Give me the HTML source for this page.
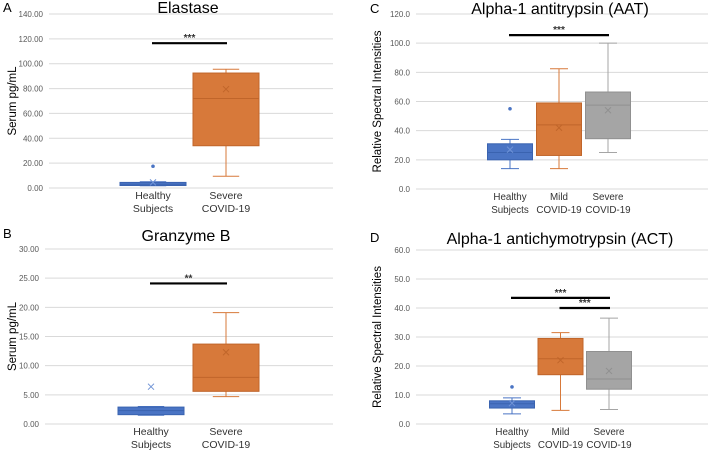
<!DOCTYPE html>
<html><head><meta charset="utf-8"><style>
body{margin:0;background:#fff;width:708px;height:450px;overflow:hidden}
svg{font-family:"Liberation Sans",sans-serif}
</style></head><body>
<svg id="s" width="708" height="450"></svg>
<script>
// Panel A: Elastase
const catsA=["Healthy|Subjects","Severe|COVID-19"];
const boxA=[[2,3,4.5,1.8,5,4.5],[34,72,92.5,9.5,95.5,79.5]]; // q1,med,q3,min,max,mean
const outA=[[17.5],[]];
const ticksA=["0.00","20.00","40.00","60.00","80.00","100.00","120.00","140.00"];
const sigA=[[0,1,116.5,"***"]];
// Panel B: Granzyme B
const catsB=["Healthy|Subjects","Severe|COVID-19"];
const boxB=[[1.6,2.3,2.9,1.5,3.0,6.4],[5.6,8,13.7,4.7,19.1,12.3]];
const outB=[[],[]];
const ticksB=["0.00","5.00","10.00","15.00","20.00","25.00","30.00"];
const sigB=[[0,1,24.1,"**"]];
// Panel C: AAT
const catsC=["Healthy|Subjects","Mild|COVID-19","Severe|COVID-19"];
const boxC=[[20,25,31,14,34,27],[23,44,59,14,82.5,42],[34.5,57.5,66.5,25,100,54]];
const outC=[[55],[],[]];
const ticksC=["0.0","20.0","40.0","60.0","80.0","100.0","120.0"];
const sigC=[[0,2,105.5,"***"]];
// Panel D: ACT
const catsD=["Healthy|Subjects","Mild|COVID-19","Severe|COVID-19"];
const boxD=[[5.5,7,8,3.5,9,7.2],[17,22.5,29.5,4.7,31.5,22],[12,15.5,25,5,36.5,18.3]];
const outD=[[12.8],[],[]];
const ticksD=["0.0","10.0","20.0","30.0","40.0","50.0","60.0"];
const sigD=[[0,2,43.5,"***"],[1,2,40,"***"]];

const colors=[["#4a74c4","#3a63b0"],["#d7793a","#c0652a"],["#a5a5a5","#909090"]];
const S=document.getElementById('s');const NS="http://www.w3.org/2000/svg";
function mk(t,a,txt){const e=document.createElementNS(NS,t);for(const k in a)e.setAttribute(k,a[k]);if(txt!=null)e.textContent=txt;S.appendChild(e);return e;}

function panel(p){
  const max=parseFloat(p.ticks[p.ticks.length-1]);
  const y=v=>p.y0+(p.yTop-p.y0)*v/max;
  const x=i=>p.cx0+i*p.step;
  p.ticks.forEach((t,i)=>{const v=parseFloat(t);
    let l=mk('line',{x1:p.xl,x2:p.xr,y1:y(v),y2:y(v),stroke:"#d9d9d9","stroke-width":1});
    
    let tx=mk('text',{x:p.xl-6,y:y(v)+3,"text-anchor":"end","font-size":8,fill:"#595959"},t);
    
  });
  let ll=mk('text',{x:p.lx,y:p.ly,"font-size":13,fill:"#000"},p.letter);
  
  let ti=mk('text',{x:p.tx,y:p.ty,"text-anchor":"middle","font-size":16,fill:"#000"},p.title);
  
  const ym=(p.y0+p.yTop)/2;
  let yt=mk('text',{x:p.ax,y:ym,"text-anchor":"middle","font-size":p.axfs,fill:"#000",transform:`rotate(-90 ${p.ax} ${ym})`},p.ytitle);
  
  p.cats.forEach((c,i)=>{const [a,b]=c.split('|');
    let t1=mk('text',{x:x(i),y:p.y0+11,"text-anchor":"middle","font-size":p.cfs,fill:"#333"},a);
    
    let t2=mk('text',{x:x(i),y:p.y0+24,"text-anchor":"middle","font-size":p.cfs,fill:"#333"},b);
    
  });
  p.box.forEach((d,i)=>{const [q1,md,q3,mn,mx,mean]=d;const c=colors[i];const cx=x(i),w=p.bw;
    let g=mk('g',{});
    const L=(a)=>{const e=document.createElementNS(NS,'line');for(const k in a)e.setAttribute(k,a[k]);e.setAttribute('stroke',c[0]);e.setAttribute('stroke-width',1);g.appendChild(e);};
    L({x1:cx,x2:cx,y1:y(q3),y2:y(mx)});L({x1:cx,x2:cx,y1:y(q1),y2:y(mn)});
    L({x1:cx-w*0.2,x2:cx+w*0.2,y1:y(mx),y2:y(mx)});L({x1:cx-w*0.2,x2:cx+w*0.2,y1:y(mn),y2:y(mn)});
    const r=document.createElementNS(NS,'rect');r.setAttribute('x',cx-w/2);r.setAttribute('y',y(q3));r.setAttribute('width',w);r.setAttribute('height',Math.max(1,y(q1)-y(q3)));r.setAttribute('fill',c[0]);r.setAttribute('stroke',c[1]);g.appendChild(r);
    const m=document.createElementNS(NS,'line');m.setAttribute('x1',cx-w/2);m.setAttribute('x2',cx+w/2);m.setAttribute('y1',y(md));m.setAttribute('y2',y(md));m.setAttribute('stroke',c[1]);g.appendChild(m);
    const my=y(mean);
    const xm=document.createElementNS(NS,'path');xm.setAttribute('d',`M${cx-3} ${my-3}L${cx+3} ${my+3}M${cx-3} ${my+3}L${cx+3} ${my-3}`);xm.setAttribute('stroke',i==0?"#6f93d6":c[1]);xm.setAttribute('stroke-width',1);g.appendChild(xm);
    p.out[i].forEach(v=>{const o=document.createElementNS(NS,'circle');o.setAttribute('cx',cx);o.setAttribute('cy',y(v));o.setAttribute('r',1.8);o.setAttribute('fill',c[0]);g.appendChild(o);});
  });
  p.sig.forEach(s=>{const [a,b,v,t]=s;
    let l=mk('line',{x1:x(a)-1,x2:x(b)+1,y1:y(v),y2:y(v),stroke:"#000","stroke-width":2.2});
    
    let tx=mk('text',{x:(x(a)+x(b))/2,y:y(v)-2,"text-anchor":"middle","font-size":10,"font-weight":"bold",fill:"#333"},t);
    
  });
}
panel({letter:"A",lx:3,ly:12,title:"Elastase",tx:188,ty:13,ytitle:"Serum pg/mL",ax:16,axfs:11.5,cfs:10.5,ticks:ticksA,cats:catsA,box:boxA,out:outA,sig:sigA,y0:188,yTop:14,xl:49,xr:333,cx0:153,step:73,bw:66});
panel({letter:"B",lx:3,ly:238,title:"Granzyme B",tx:186,ty:241,ytitle:"Serum pg/mL",ax:16,axfs:11.5,cfs:10.5,ticks:ticksB,cats:catsB,box:boxB,out:outB,sig:sigB,y0:424,yTop:249,xl:45,xr:333,cx0:151,step:75,bw:66});
panel({letter:"C",lx:370,ly:13,title:"Alpha-1 antitrypsin (AAT)",tx:560,ty:14,ytitle:"Relative Spectral Intensities",ax:381,axfs:11.5,cfs:9.8,ticks:ticksC,cats:catsC,box:boxC,out:outC,sig:sigC,y0:189,yTop:14,xl:416,xr:708,cx0:510,step:49,bw:45});
panel({letter:"D",lx:370,ly:242,title:"Alpha-1 antichymotrypsin (ACT)",tx:560,ty:244,ytitle:"Relative Spectral Intensities",ax:381,axfs:11.5,cfs:9.8,ticks:ticksD,cats:catsD,box:boxD,out:outD,sig:sigD,y0:424,yTop:250,xl:416,xr:708,cx0:512,step:48.5,bw:45});
</script>
</body></html>
